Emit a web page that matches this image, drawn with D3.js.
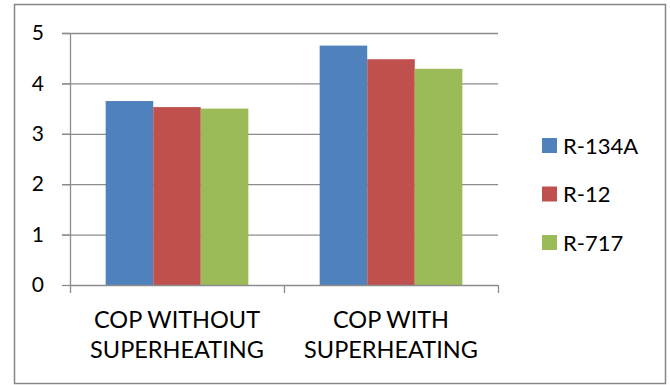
<!DOCTYPE html>
<html>
<head>
<meta charset="utf-8">
<script src="https://cdn.jsdelivr.net/npm/d3@7"></script>
<style>
  body { margin: 0; background: #fff; }
  text { font-family: Lato, "Liberation Sans", sans-serif; fill: #000; }
</style>
</head>
<body>
<div id="chart"></div>
<script>
// Data
let categories = ["COP WITHOUT SUPERHEATING", "COP WITH SUPERHEATING"];
let categoryLines = [["COP WITHOUT", "SUPERHEATING"], ["COP WITH", "SUPERHEATING"]];
let seriesNames = ["R-134A", "R-12", "R-717"];
let r134a = [3.65, 4.75];
let r12 = [3.53, 4.48];
let r717 = [3.50, 4.29];
let yTicks = [0, 1, 2, 3, 4, 5];

let colors = ["#4F81BD", "#C0504D", "#9BBB59"];

let W = 670, H = 385;
let margin = {top: 33, left: 70, right: 172, bottom: 100};
let width = 498 - margin.left;
let height = 285 - margin.top;

let svg = d3.select("#chart").append("svg")
    .attr("width", W)
    .attr("height", H);

// outer chart border
svg.append("rect")
    .attr("x", 14.5).attr("y", 4.5)
    .attr("width", 651).attr("height", 379)
    .attr("fill", "#fff")
    .attr("stroke", "#868686")
    .attr("stroke-width", 1.5);

let g = svg.append("g")
    .attr("transform", `translate(${margin.left}, ${margin.top})`);

let x0 = d3.scaleBand().domain(categories).range([0, width]).paddingInner(0).paddingOuter(0);
let x1 = d3.scaleBand().domain(seriesNames).range([0, x0.bandwidth()]).paddingInner(0).paddingOuter(0.75);
let y = d3.scaleLinear().domain([0, 5]).range([height, 0]);

// gridlines
g.selectAll(".grid")
    .data(yTicks.slice(1))
    .enter().append("line")
    .attr("x1", -8).attr("x2", width)
    .attr("y1", d => y(d) + 0.5).attr("y2", d => y(d) + 0.5)
    .attr("stroke", "#8c8c8c")
    .attr("stroke-width", 1.3);

// bars
let rows = categories.map((c, i) => ({cat: c, vals: [r134a[i], r12[i], r717[i]]}));
let groups = g.selectAll(".grp")
    .data(rows)
    .enter().append("g")
    .attr("transform", d => `translate(${x0(d.cat)}, 0)`);

groups.selectAll("rect")
    .data(d => d.vals.map((v, j) => ({name: seriesNames[j], v: v, j: j})))
    .enter().append("rect")
    .attr("x", d => x1(d.name))
    .attr("width", x1.bandwidth())
    .attr("y", d => y(d.v))
    .attr("height", d => height - y(d.v))
    .attr("fill", d => colors[d.j]);

// y axis
let yAxis = g.append("g")
    .call(d3.axisLeft(y).tickValues(yTicks).tickSize(8).tickFormat(d3.format("d")));
yAxis.select(".domain").attr("stroke", "#8c8c8c").attr("stroke-width", 1.3).attr("d", `M0.5,${height + 0.5}V0`);
yAxis.selectAll(".tick line").attr("stroke", "#8c8c8c").attr("stroke-width", 1.3);
yAxis.selectAll(".tick text")
    .attr("x", -26)
    .style("font-size", "21px")
    .style("font-family", "Lato, sans-serif")
    .attr("fill", "#000");

// x axis
let xAxis = g.append("g")
    .attr("transform", `translate(0, ${height})`)
    .call(d3.axisBottom(x0).tickValues([]).tickSizeOuter(0));
xAxis.select(".domain").attr("stroke", "#8c8c8c").attr("stroke-width", 1.3).attr("d", `M0,0.5H${width}`);
xAxis.selectAll(".sep")
    .data([0, width / 2, width])
    .enter().append("line")
    .attr("x1", d => d + 0.5).attr("x2", d => d + 0.5)
    .attr("y1", 0).attr("y2", 8)
    .attr("stroke", "#8c8c8c")
    .attr("stroke-width", 1.3);

// category labels
categories.forEach((c, i) => {
    let t = g.append("text")
        .attr("text-anchor", "middle")
        .style("font-size", "23.5px")
        .attr("transform", `translate(${x0(c) + x0.bandwidth() / 2}, ${height + 43})`);
    categoryLines[i].forEach((ln, k) => {
        t.append("tspan").attr("x", 0).attr("y", k * 30).text(ln);
    });
});

// legend
let legend = svg.append("g").attr("transform", "translate(542, 138)");
seriesNames.forEach((s, i) => {
    let item = legend.append("g").attr("transform", `translate(0, ${i * 48.5})`);
    item.append("rect").attr("width", 15).attr("height", 15).attr("fill", colors[i]);
    item.append("text").attr("x", 21).attr("y", 15.5).style("font-size", "22px").text(s);
});
</script>
</body>
</html>
